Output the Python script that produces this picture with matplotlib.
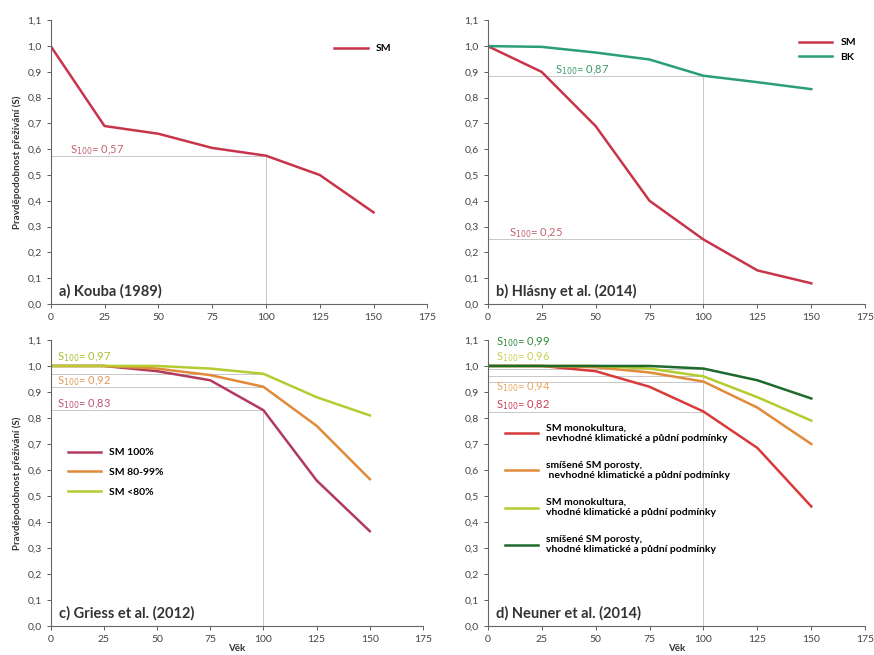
import matplotlib
matplotlib.use("Agg")
import matplotlib.pyplot as plt
from matplotlib.ticker import FuncFormatter

plt.rcParams['font.family'] = ['Lato', 'DejaVu Sans']

vek = [0, 25, 50, 75, 100, 125, 150]

# a) Kouba (1989)
a_sm = [1.0, 0.69, 0.66, 0.605, 0.575, 0.50, 0.355]

# b) Hlásny et al. (2014)
b_sm = [1.0, 0.90, 0.69, 0.40, 0.25, 0.13, 0.08]
b_bk = [1.0, 0.997, 0.975, 0.948, 0.885, 0.86, 0.833]

# c) Griess et al. (2012)
c_100 = [1.0, 1.0, 0.98, 0.945, 0.83, 0.56, 0.365]
c_80 = [1.0, 1.0, 0.99, 0.965, 0.92, 0.77, 0.565]
c_lt80 = [1.0, 1.0, 1.0, 0.99, 0.97, 0.88, 0.81]

# d) Neuner et al. (2014)
d_mono_nev = [1.0, 1.0, 0.98, 0.92, 0.825, 0.685, 0.46]
d_mix_nev = [1.0, 1.0, 0.995, 0.975, 0.94, 0.84, 0.70]
d_mono_vh = [1.0, 1.0, 1.0, 0.99, 0.96, 0.88, 0.79]
d_mix_vh = [1.0, 1.0, 1.0, 1.0, 0.99, 0.945, 0.875]

d_labels = ["SM monokultura,\nnevhodné klimatické a půdní podmínky",
            "smíšené SM porosty,\n nevhodné klimatické a půdní podmínky",
            "SM monokultura,\nvhodné klimatické a půdní podmínky",
            "smíšené SM porosty,\nvhodné klimatické a půdní podmínky"]

RED = "#c8344a"
GREEN = "#2a9e74"
C_RED = "#b23a5c"
ORANGE = "#e08a3a"
YGREEN = "#b4cc30"
DGREEN = "#1d6a2c"
GRID = "#c8c8c8"

fig = plt.figure(figsize=(8.74, 6.55), dpi=100)
ax_a = fig.add_axes([0.058, 0.536, 0.431, 0.433])
ax_b = fig.add_axes([0.558, 0.536, 0.432, 0.433])
ax_c = fig.add_axes([0.058, 0.044, 0.426, 0.437])
ax_d = fig.add_axes([0.558, 0.044, 0.432, 0.437])

comma = FuncFormatter(lambda v, p: ("%.1f" % v).replace(".", ","))


def style(ax, title, ylabel=False, xlabel=False):
    ax.set_xlim(0, 175)
    ax.set_ylim(0, 1.1)
    ax.set_xticks([0, 25, 50, 75, 100, 125, 150, 175])
    ax.set_yticks([i / 10 for i in range(12)])
    ax.yaxis.set_major_formatter(comma)
    ax.spines['top'].set_visible(False)
    ax.spines['right'].set_visible(False)
    ax.spines['left'].set_color("#666666")
    ax.spines['bottom'].set_color("#666666")
    ax.tick_params(labelsize=7.5, colors="#444444", length=3, width=0.6)
    ax.text(4, 0.05, title, fontsize=10.5, fontweight='bold', color="#333333", va='center')
    if ylabel:
        ax.set_ylabel("Pravděpodobnost přežívání (S)", fontsize=7, fontweight='bold', color="#333333", labelpad=4)
    if xlabel:
        ax.set_xlabel("Věk", fontsize=7, fontweight='bold', color="#333333", labelpad=0)


def guide(ax, val, top):
    ax.plot([0, 100], [val, val], color=GRID, lw=0.7, zorder=1)
    ax.plot([100, 100], [0, top], color=GRID, lw=0.7, zorder=1)


def s100(ax, x, y, val, color):
    ax.text(x, y, r"S$_{100}$= " + val, fontsize=8, color=color, va='center')


# a
ax = ax_a
guide(ax, a_sm[4], a_sm[4])
ax.plot(vek, a_sm, color=RED, lw=1.8, label="SM")
s100(ax, 9, 0.597, "0,57", "#c06070")
style(ax, "a) Kouba (1989)", ylabel=True)
ax.legend(loc='upper right', bbox_to_anchor=(0.93, 0.95), frameon=False,
          handlelength=3.2, prop={'weight': 'bold', 'size': 7.5})

# b
ax = ax_b
guide(ax, b_bk[4], b_bk[4])
guide(ax, b_sm[4], b_sm[4])
ax.plot(vek, b_sm, color=RED, lw=1.8, label="SM")
ax.plot(vek, b_bk, color=GREEN, lw=1.8, label="BK")
s100(ax, 31, 0.905, "0,87", "#3a9a6a")
s100(ax, 10, 0.275, "0,25", "#c06070")
style(ax, "b) Hlásny et al. (2014)")
ax.legend(loc='upper right', bbox_to_anchor=(1.0, 0.97), frameon=False,
          handlelength=3.2, prop={'weight': 'bold', 'size': 7.5})

# c
ax = ax_c
guide(ax, c_lt80[4], c_100[4])
guide(ax, c_80[4], c_100[4])
guide(ax, c_100[4], c_100[4])
ax.plot(vek, c_100, color=C_RED, lw=1.8, label="SM 100%")
ax.plot(vek, c_80, color=ORANGE, lw=1.8, label="SM 80-99%")
ax.plot(vek, c_lt80, color=YGREEN, lw=1.8, label="SM <80%")
s100(ax, 3, 1.032, "0,97", "#a8c030")
s100(ax, 3, 0.942, "0,92", "#e09a5a")
s100(ax, 3, 0.852, "0,83", "#c05070")
style(ax, "c) Griess et al. (2012)", ylabel=True, xlabel=True)
ax.legend(loc='upper left', bbox_to_anchor=(0.02, 0.655), frameon=False,
          handlelength=3.2, labelspacing=1.0, prop={'weight': 'bold', 'size': 7.5})

# d
ax = ax_d
guide(ax, d_mix_vh[4], d_mix_vh[4])
guide(ax, d_mono_vh[4], d_mix_vh[4])
guide(ax, d_mix_nev[4], d_mix_vh[4])
guide(ax, d_mono_nev[4], d_mix_vh[4])
ax.plot(vek, d_mono_nev, color="#d83a3a", lw=1.8, label=d_labels[0])
ax.plot(vek, d_mix_nev, color=ORANGE, lw=1.8, label=d_labels[1])
ax.plot(vek, d_mono_vh, color=YGREEN, lw=1.8, label=d_labels[2])
ax.plot(vek, d_mix_vh, color=DGREEN, lw=1.8, label=d_labels[3])
s100(ax, 4, 1.09, "0,99", "#2a8a3a")
s100(ax, 4, 1.035, "0,96", "#c8d050")
s100(ax, 4, 0.92, "0,94", "#e8a860")
s100(ax, 4, 0.848, "0,82", "#c84050")
style(ax, "d) Neuner et al. (2014)", xlabel=True)
ax.legend(loc='upper left', bbox_to_anchor=(0.02, 0.74), frameon=False,
          handlelength=3.2, labelspacing=1.7, prop={'weight': 'bold', 'size': 7.5})

fig.savefig("out.png", dpi=100)
